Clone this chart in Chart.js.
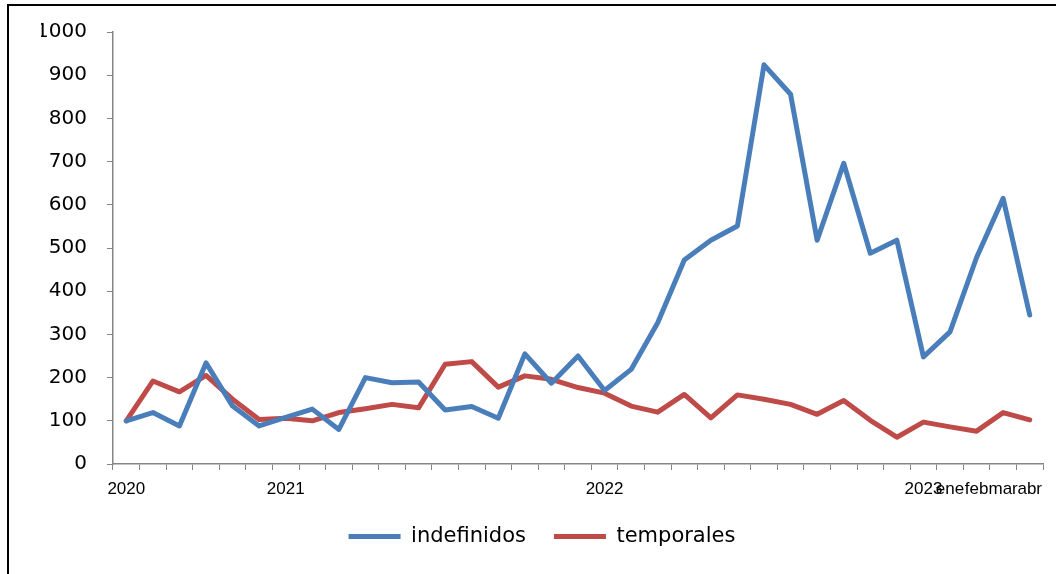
<!DOCTYPE html>
<html>
<head>
<meta charset="utf-8">
<script src="https://cdn.jsdelivr.net/npm/chart.js@4/dist/chart.umd.min.js"></script>
<style>
  html, body { margin: 0; padding: 0; background: #fff; }
  #wrap { position: relative; width: 1056px; height: 574px; }
  #frame { position: absolute; left: 7px; top: 4px; right: 0; bottom: 0;
           border-top: 2px solid #000; border-left: 2px solid #000; pointer-events: none; }
  canvas { position: absolute; left: 0; top: 0; }
</style>
</head>
<body>
<div id="wrap">
  <canvas id="chart" width="1056" height="574"></canvas>
  <div id="frame"></div>
</div>
<script>
// Category labels (monthly points, only some labelled)
const xLabels = ['2020', '', '', '', '', '', '2021', '', '', '', '', '', '', '', '', '', '', '',
  '2022', '', '', '', '', '', '', '', '', '', '', '', '2023', 'ene', 'feb', 'mar', 'abr'];

// Series values
const indefinidos = [100, 119, 88, 234, 134, 88, 108, 127, 80, 200, 188, 190, 125, 133, 106,
  255, 187, 250, 170, 219, 327, 472, 518, 551, 924, 856, 518, 696, 488, 518, 248, 306, 478, 615, 345];
const temporales = [100, 192, 167, 205, 150, 103, 106, 100, 119, 128, 138, 130, 231, 237, 178,
  204, 196, 177, 164, 134, 120, 161, 107, 160, 150, 138, 115, 147, 101, 62, 97, 86, 76, 119, 102];

const axisGrey = '#868686';

new Chart(document.getElementById('chart'), {
  type: 'line',
  data: {
    labels: xLabels,
    datasets: [
      {
        label: 'indefinidos',
        data: indefinidos,
        borderColor: '#4A7EBB',
        backgroundColor: '#4A7EBB',
        borderWidth: 5,
        borderCapStyle: 'round',
        borderJoinStyle: 'round',
        pointRadius: 0,
        tension: 0
      },
      {
        label: 'temporales',
        data: temporales,
        borderColor: '#BE4B48',
        backgroundColor: '#BE4B48',
        borderWidth: 5,
        borderCapStyle: 'round',
        borderJoinStyle: 'round',
        pointRadius: 0,
        tension: 0
      }
    ]
  },
  options: {
    responsive: false,
    animation: false,
    layout: { padding: { left: 41, right: 13, top: 31, bottom: 17 } },
    plugins: {
      tooltip: { enabled: false },
      legend: {
        position: 'bottom',
        labels: {
          usePointStyle: true,
          pointStyle: 'line',
          pointStyleWidth: 52,
          padding: 28,
          color: '#000',
          font: { family: 'DejaVu Sans', size: 21 }
        }
      }
    },
    scales: {
      x: {
        offset: true,
        afterFit: s => { s.height = 34; },
        grid: { offset: true, drawOnChartArea: false, tickLength: 6, color: axisGrey, lineWidth: 1 },
        border: { color: axisGrey, width: 1.5 },
        ticks: {
          autoSkip: false,
          maxRotation: 0,
          padding: 9,
          color: '#000',
          font: { family: 'Liberation Sans', size: 17 }
        }
      },
      y: {
        min: 0,
        max: 1000,
        afterFit: s => { s.width = 72; },
        grid: { drawOnChartArea: false, tickLength: 6, color: axisGrey, lineWidth: 1 },
        border: { color: axisGrey, width: 1.5 },
        ticks: {
          stepSize: 100,
          padding: 20,
          color: '#000',
          font: { family: 'DejaVu Sans', size: 20 },
          callback: v => String(v)
        }
      }
    }
  }
});
</script>
</body>
</html>
